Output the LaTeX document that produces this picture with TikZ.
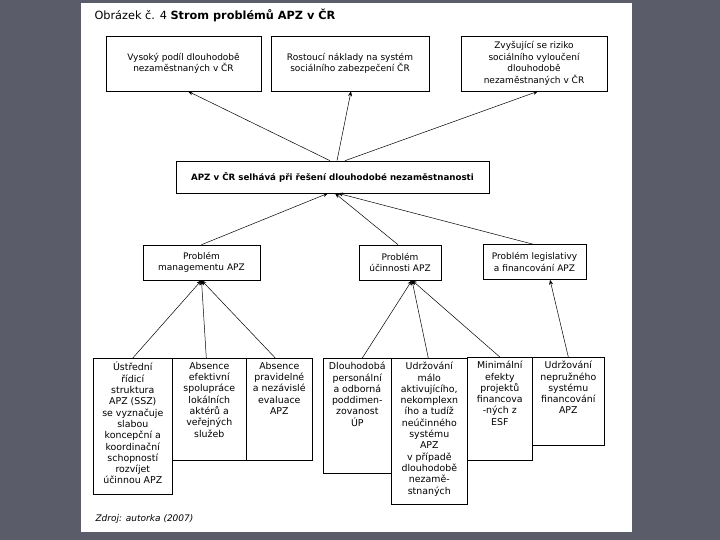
\documentclass[tikz,border=0pt]{standalone}
\usepackage{fontspec}
\setmainfont{DejaVu Sans}
\usetikzlibrary{arrows.meta, positioning}
\definecolor{slidegray}{RGB}{90,92,106}

\tikzset{
  box/.style={draw=black, line width=0.6pt, fill=white, inner sep=0pt},
  toptext/.style={align=center, font=\fontsize{9}{11.5}\selectfont},
  boxtext/.style={align=center, inner sep=0pt, font=\fontsize{9.4}{11.3}\selectfont},
  arr/.style={-{Stealth[length=5pt,width=4pt]}, line width=0.5pt},
}

\begin{document}
\begin{tikzpicture}[x=1pt,y=-1pt]
      \fill[slidegray] (0,0) rectangle (720,540);
      \fill[white] (81,3) rectangle (632,532);
      \useasboundingbox (0,0) rectangle (720,540);
      \node[anchor=west, font=\fontsize{11.3}{13}\selectfont] (title) at (91,15) {Obrázek č. 4 \textbf{Strom problémů APZ v ČR}};
      % top row: consequences
      \node[box, toptext, minimum width=155, minimum height=55] (vysoky) at (183.5,63.5) {Vysoký podíl dlouhodobě\\nezaměstnaných v ČR};
      \node[box, toptext, minimum width=158, minimum height=55] (naklady) at (350,63.5) {Rostoucí náklady na systém\\sociálního zabezpečení ČR};
      \node[box, toptext, minimum width=146, minimum height=55] (riziko) at (534,63.5) {Zvyšující se riziko\\sociálního vyloučení\\dlouhodobě\\nezaměstnaných v ČR};
      % core problem
      \node[box, minimum width=313, minimum height=32, font=\bfseries\fontsize{8.7}{10}\selectfont] (apz) at (332.5,177) {APZ v ČR selhává při řešení dlouhodobé nezaměstnanosti};
      % middle row
      \node[box, toptext, minimum width=117, minimum height=35] (management) at (201.5,262.5) {Problém\\managementu APZ};
      \node[box, toptext, minimum width=82, minimum height=35] (ucinnost) at (400,262.5) {Problém\\účinnosti APZ};
      \node[box, toptext, minimum width=103, minimum height=35] (legislativa) at (534.5,262) {Problém legislativy\\a financování APZ};
      % bottom row: causes
      \node[box, anchor=north west, minimum width=79, minimum height=136] (ustredni) at (93,358) {};
      \node[box, anchor=north west, minimum width=74, minimum height=102] (spoluprace) at (172,358) {};
      \node[box, anchor=north west, minimum width=66, minimum height=102] (evaluace) at (246,358) {};
      \node[box, anchor=north west, minimum width=68, minimum height=115] (personal) at (323,358) {};
      \node[box, anchor=north west, minimum width=76, minimum height=146] (udrzovani) at (391,358) {};
      \node[box, anchor=north west, minimum width=65, minimum height=103] (esf) at (467,357) {};
      \node[box, anchor=north west, minimum width=72, minimum height=88] (financovani) at (532,357) {};
      \node[boxtext, below=4pt of ustredni.north] {Ústřední\\řídicí\\struktura\\APZ (SSZ)\\se vyznačuje\\slabou\\koncepční a\\koordinační\\schopností\\rozvíjet\\účinnou APZ};
      \node[boxtext, below=4pt of spoluprace.north] {Absence\\efektivní\\spolupráce\\lokálních\\aktérů a\\veřejných\\služeb};
      \node[boxtext, below=4pt of evaluace.north] {Absence\\pravidelné\\a nezávislé\\evaluace\\APZ};
      \node[boxtext, below=4pt of personal.north] {Dlouhodobá\\personální\\a odborná\\poddimen-\\zovanost\\ÚP};
      \node[boxtext, below=4pt of udrzovani.north] {Udržování\\málo\\aktivujícího,\\nekomplexn\\ího a tudíž\\neúčinného\\systému\\APZ\\v případě\\dlouhodobě\\nezamě-\\stnaných};
      \node[boxtext, below=4pt of esf.north] {Minimální\\efekty\\projektů\\financova\\-ných z\\ESF};
      \node[boxtext, below=4pt of financovani.north] {Udržování\\nepružného\\systému\\financování\\APZ};
      \node[anchor=west, font=\itshape\fontsize{9}{11}\selectfont] (zdroj) at (92,519) {Zdroj: autorka (2007)};
      % arrows up to the consequences
      \draw[arr] ([xshift=-2.5pt]apz.north) -- ([xshift=4.5pt]vysoky.south);
      \draw[arr] ([xshift=4.5pt]apz.north) -- ([xshift=1pt]naklady.south);
      \draw[arr] ([xshift=12.5pt]apz.north) -- ([xshift=4pt]riziko.south);
      % arrows up to the core problem
      \draw[arr] (management.north) -- ([xshift=-4.5pt]apz.south);
      \draw[arr] ([xshift=-2pt]ucinnost.north) -- ([xshift=2.5pt]apz.south);
      \draw[arr] ([xshift=-1.5pt]legislativa.north) -- ([xshift=5.5pt]apz.south);
      % arrows up from the causes
      \draw[arr] (ustredni.north) -- (management.south);
      \draw[arr] ([xshift=-3pt]spoluprace.north) -- (management.south);
      \draw[arr] ([xshift=-4pt]evaluace.north) -- (management.south);
      \draw[arr] ([xshift=5pt]personal.north) -- ([xshift=12pt]ucinnost.south);
      \draw[arr] ([xshift=-1pt]udrzovani.north) -- ([xshift=12pt]ucinnost.south);
      \draw[arr] (esf.north) -- ([xshift=12pt]ucinnost.south);
      \draw[arr] (financovani.north) -- ([xshift=15.5pt]legislativa.south);
\end{tikzpicture}
\end{document}
